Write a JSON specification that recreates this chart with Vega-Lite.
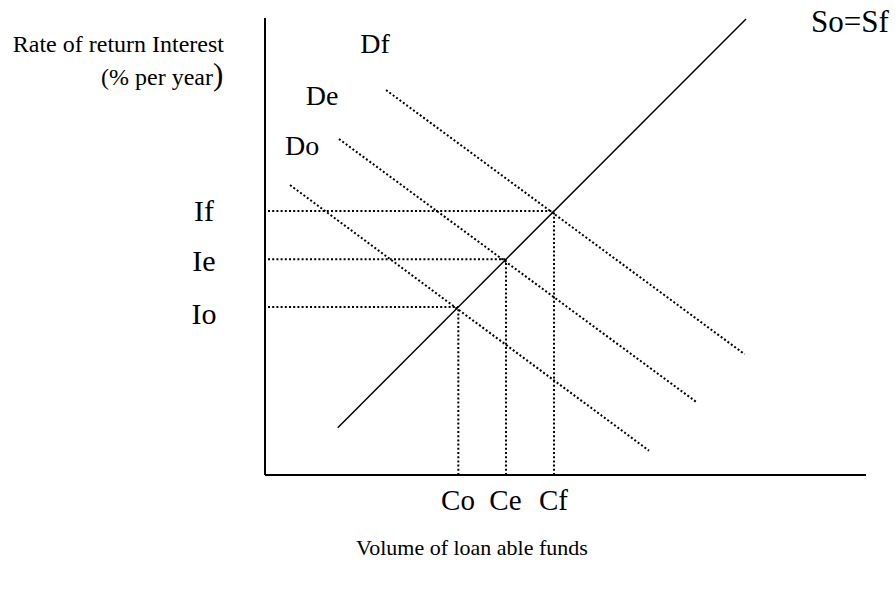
{
  "$schema": "https://vega.github.io/schema/vega-lite/v6.json",
  "width": 896,
  "height": 589,
  "autosize": {"type": "fit", "contains": "padding"},
  "padding": 0,
  "background": "white",
  "config": {"view": {"stroke": null}, "font": "Liberation Serif"},
  "datasets": {
    "segments": [
      {"name": "y-axis", "kind": "axis", "q1": 0, "r1": 0, "q2": 0, "r2": 96.21},
      {"name": "x-axis", "kind": "axis", "q1": 0, "r1": 0, "q2": 100.17, "r2": 0},
      {"name": "So=Sf", "kind": "supply", "q1": 12.12, "r1": 9.96, "q2": 80.17, "r2": 96.0},
      {"name": "Do", "kind": "dotted", "q1": 4.17, "r1": 61.05, "q2": 64.0, "r2": 5.12},
      {"name": "De", "kind": "dotted", "q1": 12.33, "r1": 70.74, "q2": 71.95, "r2": 15.31},
      {"name": "Df", "kind": "dotted", "q1": 20.17, "r1": 81.05, "q2": 79.95, "r2": 25.41},
      {"name": "Io", "kind": "dotted", "q1": 0.5, "r1": 35.37, "q2": 32.22, "r2": 35.37},
      {"name": "Ie", "kind": "dotted", "q1": 0.5, "r1": 45.41, "q2": 40.17, "r2": 45.41},
      {"name": "If", "kind": "dotted", "q1": 0.5, "r1": 55.58, "q2": 48.17, "r2": 55.58},
      {"name": "Co", "kind": "dotted", "q1": 32.22, "r1": 0, "q2": 32.22, "r2": 35.37},
      {"name": "Ce", "kind": "dotted", "q1": 40.17, "r1": 0, "q2": 40.17, "r2": 45.41},
      {"name": "Cf", "kind": "dotted", "q1": 48.17, "r1": 0, "q2": 48.17, "r2": 55.58}
    ],
    "labels": [
      {"label": "Rate of return Interest", "pos": "right", "q": -6.83, "r": 90.53, "fs": 24},
      {"label": "(% per year", "pos": "right", "q": -8.67, "r": 83.58, "fs": 24},
      {"label": ")", "pos": "left", "q": -8.67, "r": 83.9, "fs": 31},
      {"label": "Df", "pos": "center", "q": 18.33, "r": 90.53, "fs": 28},
      {"label": "De", "pos": "center", "q": 9.5, "r": 79.58, "fs": 28},
      {"label": "Do", "pos": "center", "q": 6.17, "r": 69.05, "fs": 28},
      {"label": "If", "pos": "center", "q": -10.17, "r": 55.37, "fs": 30},
      {"label": "Ie", "pos": "center", "q": -10.17, "r": 44.84, "fs": 30},
      {"label": "Io", "pos": "center", "q": -10.17, "r": 33.68, "fs": 30},
      {"label": "So=Sf", "pos": "center", "q": 97.5, "r": 95.16, "fs": 31},
      {"label": "Co", "pos": "center", "q": 32.17, "r": -5.47, "fs": 29},
      {"label": "Ce", "pos": "center", "q": 40.08, "r": -5.47, "fs": 29},
      {"label": "Cf", "pos": "center", "q": 48.08, "r": -5.47, "fs": 29},
      {"label": "Volume of loan able funds", "pos": "center", "q": 34.5, "r": -15.37, "fs": 22}
    ]
  },
  "layer": [
    {
      "data": {"name": "segments"},
      "transform": [{"filter": "datum.kind === 'axis'"}],
      "mark": {"type": "rule", "color": "black", "strokeWidth": 2},
      "encoding": {
        "x": {"field": "q1", "type": "quantitative", "scale": {"domain": [-44.1667, 105.1667], "nice": false, "zero": false}, "axis": null},
        "y": {"field": "r1", "type": "quantitative", "scale": {"domain": [-24, 100], "nice": false, "zero": false}, "axis": null},
        "x2": {"field": "q2"},
        "y2": {"field": "r2"}
      }
    },
    {
      "data": {"name": "segments"},
      "transform": [{"filter": "datum.kind === 'supply'"}],
      "mark": {"type": "rule", "color": "black", "strokeWidth": 1.5},
      "encoding": {
        "x": {"field": "q1", "type": "quantitative"},
        "y": {"field": "r1", "type": "quantitative"},
        "x2": {"field": "q2"},
        "y2": {"field": "r2"}
      }
    },
    {
      "data": {"name": "segments"},
      "transform": [{"filter": "datum.kind === 'dotted'"}],
      "mark": {"type": "rule", "color": "black", "strokeWidth": 2, "strokeDash": [2, 2.2]},
      "encoding": {
        "x": {"field": "q1", "type": "quantitative"},
        "y": {"field": "r1", "type": "quantitative"},
        "x2": {"field": "q2"},
        "y2": {"field": "r2"}
      }
    },
    {
      "data": {"name": "labels"},
      "transform": [{"filter": "datum.pos === 'center'"}],
      "mark": {"type": "text", "align": "center", "baseline": "middle", "color": "black", "font": "Liberation Serif"},
      "encoding": {
        "x": {"field": "q", "type": "quantitative"},
        "y": {"field": "r", "type": "quantitative"},
        "text": {"field": "label"},
        "size": {"field": "fs", "type": "quantitative", "scale": null}
      }
    },
    {
      "data": {"name": "labels"},
      "transform": [{"filter": "datum.pos === 'right'"}],
      "mark": {"type": "text", "align": "right", "baseline": "middle", "color": "black", "font": "Liberation Serif"},
      "encoding": {
        "x": {"field": "q", "type": "quantitative"},
        "y": {"field": "r", "type": "quantitative"},
        "text": {"field": "label"},
        "size": {"field": "fs", "type": "quantitative", "scale": null}
      }
    },
    {
      "data": {"name": "labels"},
      "transform": [{"filter": "datum.pos === 'left'"}],
      "mark": {"type": "text", "align": "left", "baseline": "middle", "color": "black", "font": "Liberation Serif"},
      "encoding": {
        "x": {"field": "q", "type": "quantitative"},
        "y": {"field": "r", "type": "quantitative"},
        "text": {"field": "label"},
        "size": {"field": "fs", "type": "quantitative", "scale": null}
      }
    }
  ]
}
